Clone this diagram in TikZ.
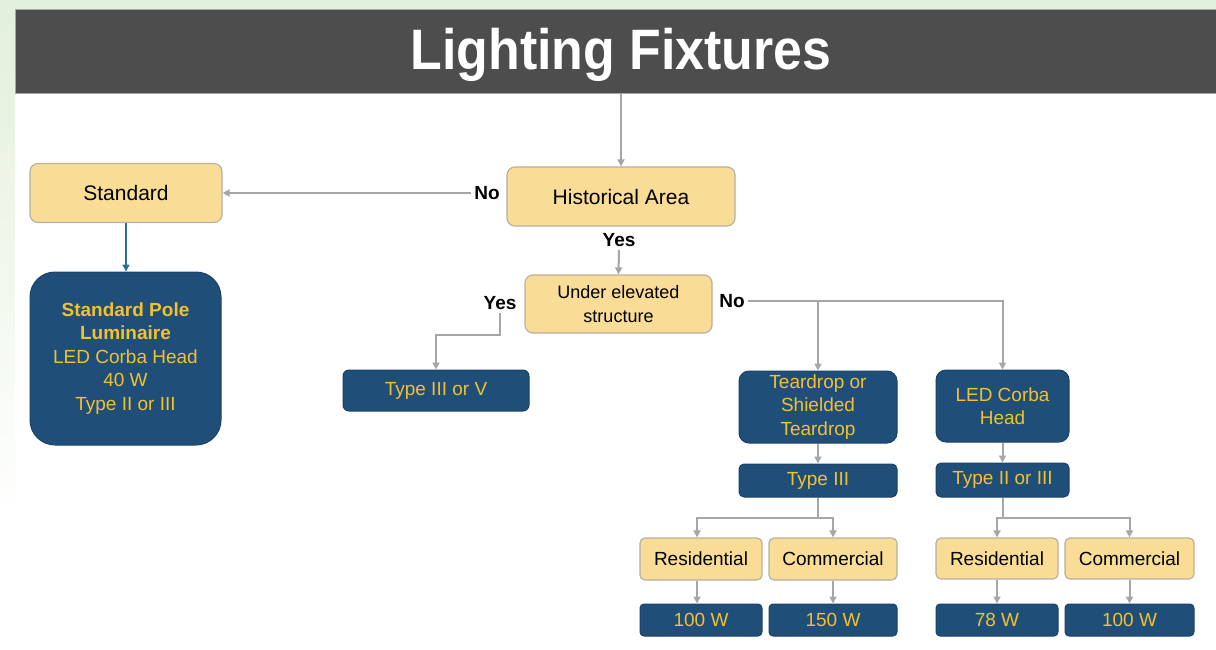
\documentclass[tikz,border=0pt]{standalone}
\usepackage{fontspec}
\setmainfont{Liberation Sans}
\newfontfamily\titlefont[FakeStretch=0.91]{Liberation Sans}
\usetikzlibrary{arrows.meta}
\definecolor{tanfill}{HTML}{F9DC96}
\definecolor{tanline}{HTML}{B8B0A0}
\definecolor{navy}{HTML}{1F4E79}
\definecolor{gold}{HTML}{F2C12E}
\definecolor{arrgray}{HTML}{A6A6A6}
\definecolor{bardark}{HTML}{4D4D4D}
\definecolor{tealarr}{HTML}{2E6E8E}
\definecolor{mint}{HTML}{E3F0DB}
\tikzset{
  tanbox/.style={draw=tanline, line width=1.2pt, fill=tanfill, rounded corners=8pt,
    inner sep=0pt, align=center, font=\fontsize{19}{24}\selectfont},
  bluebox/.style={draw=navy!85!black, line width=1pt, fill=navy, text=gold, rounded corners=5pt,
    inner sep=0pt, align=center, font=\fontsize{19}{23.5}\selectfont},
  lbl/.style={font=\bfseries\fontsize{19}{22}\selectfont, inner sep=3pt},
  arr/.style={draw=arrgray, line width=2pt, -{Triangle[length=7pt,width=7pt]}},
}
\begin{document}
\begin{tikzpicture}[x=1pt,y=-1pt]
\useasboundingbox (0,0) rectangle (1216,650);
% background
\fill[white] (0,0) rectangle (1216,650);
\fill[mint] (0,0) rectangle (1216,10);
\shade[top color=mint, bottom color=white] (0,10) rectangle (15,520);
\node[fill=bardark, draw=gray!70, line width=1pt, minimum width=1201, minimum height=84, inner sep=0pt] (bar) at (615.5,52) {};
\node[text=white, inner sep=0pt, font=\titlefont\bfseries\fontsize{57}{60}\selectfont] (title) at (621,55) {Lighting Fixtures};

% decision boxes
\node[tanbox, minimum width=192, minimum height=59, font=\fontsize{21}{24}\selectfont] (std) at (126,193) {Standard};
\node[tanbox, minimum width=228, minimum height=59, font=\fontsize{21}{24}\selectfont] (hist) at (621,196.5) {Historical Area};
\node[tanbox, minimum width=187, minimum height=58, font=\fontsize{18}{24}\selectfont] (under) at (618.5,304) {Under elevated\\structure};

% fixtures
\node[bluebox, minimum width=191, minimum height=173, rounded corners=25pt] (pole) at (125.5,358.5)
  {\textbf{Standard Pole}\\\textbf{Luminaire}\\LED Corba Head\\40 W\\Type II or III};
\node[bluebox, minimum width=186, minimum height=41, rounded corners=6pt] (t35) at (436,390.5) {Type III or V};
\node[bluebox, minimum width=158, minimum height=72, rounded corners=10pt] (tear) at (818,407) {Teardrop or\\Shielded\\Teardrop};
\node[bluebox, minimum width=133, minimum height=72, rounded corners=10pt] (led) at (1002.5,406) {LED Corba\\Head};
\node[bluebox, minimum width=158, minimum height=33] (t3) at (818,480.5) {Type III};
\node[bluebox, minimum width=133, minimum height=34] (t23) at (1002.5,480) {Type II or III};

% area type
\node[tanbox, minimum width=122, minimum height=42, rounded corners=5pt] (res1) at (701,559) {Residential};
\node[tanbox, minimum width=128, minimum height=42, rounded corners=5pt] (com1) at (833,559) {Commercial};
\node[tanbox, minimum width=122, minimum height=41, rounded corners=5pt] (res2) at (997,558.5) {Residential};
\node[tanbox, minimum width=129, minimum height=41, rounded corners=5pt] (com2) at (1129.5,558.5) {Commercial};

% wattage
\node[bluebox, minimum width=122, minimum height=32, rounded corners=4pt] (w1) at (701,620) {100 W};
\node[bluebox, minimum width=128, minimum height=32, rounded corners=4pt] (w2) at (833,620) {150 W};
\node[bluebox, minimum width=122, minimum height=32, rounded corners=4pt] (w3) at (997,620) {78 W};
\node[bluebox, minimum width=129, minimum height=32, rounded corners=4pt] (w4) at (1129.5,620) {100 W};

% yes / no labels
\node[lbl] (noL) at (487,193) {No};
\node[lbl] (yesH) at (619,240) {Yes};
\node[lbl] (yesU) at (500,303) {Yes};
\node[lbl] (noR) at (732,301) {No};

% connectors
\draw[arr] (bar.south -| hist.north) -- (hist.north);
\draw[arr] (noL.west) -- (std.east);
\draw[arr, draw=tealarr, line width=1.6pt] (std.south) -- (std.south |- pole.north);
\draw[arr] (yesH.south) -- (under.north);
\draw[arr] (yesU.south) -- ++(0,22) -| (t35.north);
\draw[arr] (noR.east) -| (led.north);
\draw[arr] (noR.east -| tear.north) -- (tear.north);
\draw[arr] (tear.south) -- (t3.north);
\draw[arr] (led.south) -- (t23.north);
\draw[draw=arrgray, line width=2pt] (t3.south) -- ++(0,20) coordinate (j1);
\draw[arr] (j1) -| ([xshift=-4]res1.north);
\draw[arr] (j1) -| (com1.north);
\draw[draw=arrgray, line width=2pt] (t23.south) -- ++(0,20) coordinate (j2);
\draw[arr] (j2) -| (res2.north);
\draw[arr] (j2) -| (com2.north);
\draw[arr] ([xshift=-4]res1.south) -- ([xshift=-4]w1.north);
\draw[arr] (com1.south) -- (w2.north);
\draw[arr] (res2.south) -- (w3.north);
\draw[arr] (com2.south) -- (w4.north);
\end{tikzpicture}
\end{document}
